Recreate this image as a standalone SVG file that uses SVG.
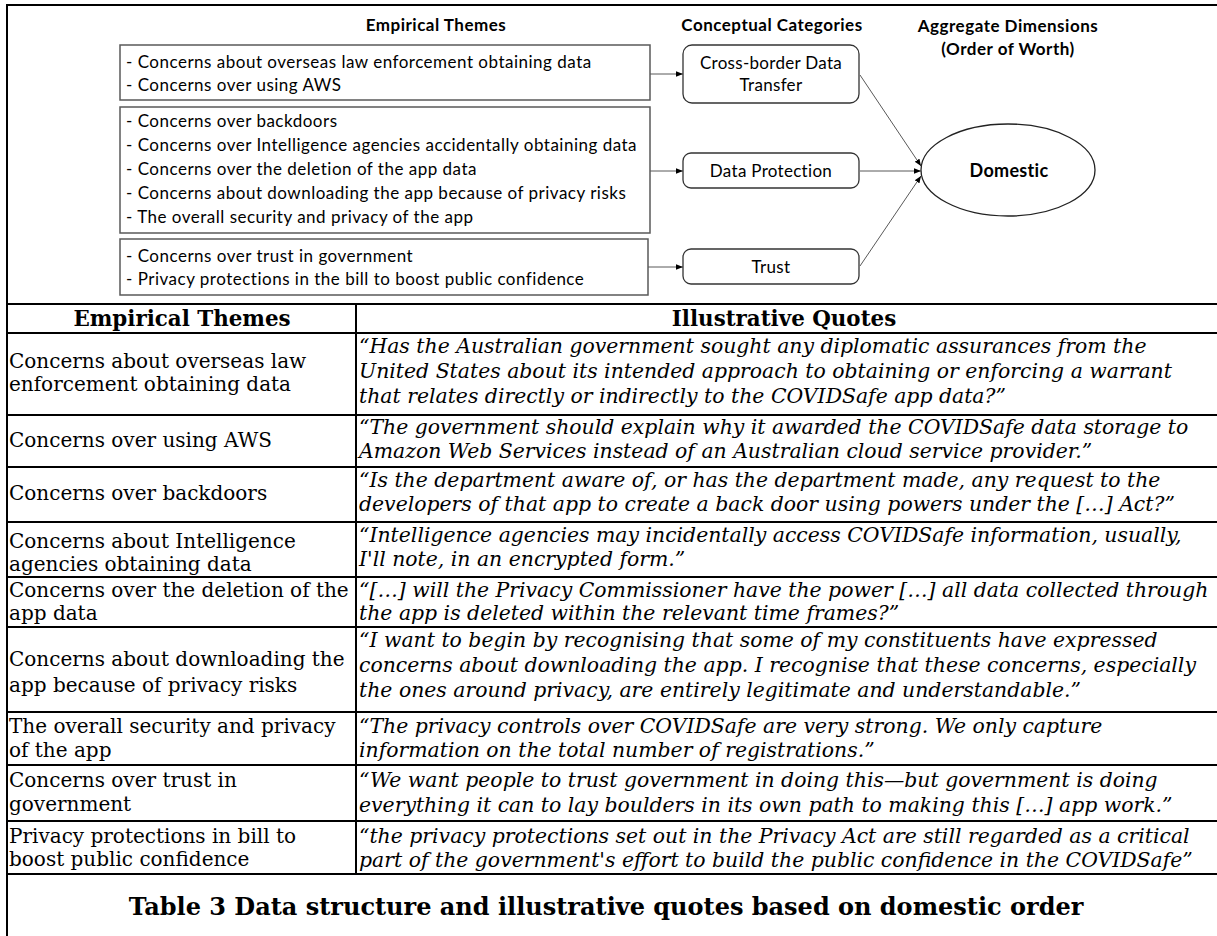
<svg xmlns="http://www.w3.org/2000/svg" width="1217" height="936" viewBox="0 0 1217 936">
<defs>
<style>
.hd{font-family:Lato,"Liberation Sans",sans-serif;font-weight:bold;font-size:17px;letter-spacing:0.5px;fill:#000;text-anchor:middle}
.bt{font-family:Lato,"Liberation Sans",sans-serif;font-size:17px;letter-spacing:0.5px;fill:#000}
.ct{font-family:Lato,"Liberation Sans",sans-serif;font-size:17px;letter-spacing:0.3px;fill:#000;text-anchor:middle}
.box{fill:#fff;stroke:#595959;stroke-width:1.5}
.cat{fill:#fff;stroke:#333;stroke-width:1.3}
.con{stroke:#595959;stroke-width:1;fill:none}
.tl{stroke:#000;stroke-width:2;fill:none}
.th{font-family:"DejaVu Serif","Liberation Serif",serif;font-weight:bold;font-size:21.4px;fill:#000;text-anchor:middle}
.lc{font-family:"DejaVu Serif","Liberation Serif",serif;font-size:20px;fill:#000}
.qc{font-family:"DejaVu Serif","Liberation Serif",serif;font-style:italic;font-size:20.4px;fill:#000}
.cap{font-family:"DejaVu Serif","Liberation Serif",serif;font-weight:bold;font-size:24px;fill:#000;text-anchor:middle}
</style>
<marker id="ah" viewBox="0 0 10 10" refX="10" refY="5" markerWidth="7" markerHeight="7" orient="auto" markerUnits="userSpaceOnUse">
<path d="M0,1 L10,5 L0,9 z" fill="#000"/>
</marker>
</defs>
<rect width="1217" height="936" fill="#fff"/>

<g id="frame">
<line class="tl" x1="6" y1="5" x2="1217" y2="5"/>
<line class="tl" x1="7" y1="4" x2="7" y2="936"/>
</g>

<g id="headers">
<text class="hd" x="436" y="31">Empirical Themes</text>
<text class="hd" x="772" y="31">Conceptual Categories</text>
<text class="hd" x="1008" y="32">Aggregate Dimensions</text>
<text class="hd" x="1008" y="55">(Order of Worth)</text>
</g>

<g id="theme-box-1">
<rect class="box" x="120" y="45" width="530" height="55"/>
<text class="bt" x="126" y="68">- Concerns about overseas law enforcement obtaining data</text>
<text class="bt" x="126" y="91">- Concerns over using AWS</text>
</g>
<g id="theme-box-2">
<rect class="box" x="120" y="107" width="530" height="126"/>
<text class="bt" x="126" y="127">- Concerns over backdoors</text>
<text class="bt" x="126" y="151">- Concerns over Intelligence agencies accidentally obtaining data</text>
<text class="bt" x="126" y="175">- Concerns over the deletion of the app data</text>
<text class="bt" x="126" y="199">- Concerns about downloading the app because of privacy risks</text>
<text class="bt" x="126" y="223">- The overall security and privacy of the app</text>
</g>
<g id="theme-box-3">
<rect class="box" x="120" y="239" width="528" height="56"/>
<text class="bt" x="126" y="262">- Concerns over trust in government</text>
<text class="bt" x="126" y="285">- Privacy protections in the bill to boost public confidence</text>
</g>

<g id="cat-cross-border">
<rect class="cat" x="683" y="45" width="176" height="58" rx="9"/>
<text class="ct" x="771" y="69">Cross-border Data</text>
<text class="ct" x="771" y="91">Transfer</text>
</g>
<g id="cat-data-protection">
<rect class="cat" x="683" y="153" width="176" height="35" rx="8"/>
<text class="ct" x="771" y="177">Data Protection</text>
</g>
<g id="cat-trust">
<rect class="cat" x="683" y="249" width="176" height="35" rx="8"/>
<text class="ct" x="771" y="273">Trust</text>
</g>

<g id="dim-domestic">
<ellipse cx="1008" cy="170" rx="87" ry="46" fill="#fff" stroke="#222" stroke-width="1.3"/>
<text class="hd" x="1009" y="177" style="font-size:18px;letter-spacing:0.3px">Domestic</text>
</g>

<g id="connectors">
<line class="con" x1="650" y1="74" x2="683" y2="74" marker-end="url(#ah)"/>
<line class="con" x1="650" y1="171" x2="683" y2="171" marker-end="url(#ah)"/>
<line class="con" x1="648" y1="267" x2="683" y2="267" marker-end="url(#ah)"/>
<line class="con" x1="860" y1="75" x2="921" y2="166" marker-end="url(#ah)"/>
<line class="con" x1="860" y1="171" x2="921" y2="171" marker-end="url(#ah)"/>
<line class="con" x1="860" y1="266" x2="921" y2="176" marker-end="url(#ah)"/>
</g>

<g id="table-grid">
<line class="tl" x1="7" y1="304" x2="1217" y2="304"/>
<line class="tl" x1="7" y1="333" x2="1217" y2="333"/>
<line class="tl" x1="7" y1="415" x2="1217" y2="415"/>
<line class="tl" x1="7" y1="467" x2="1217" y2="467"/>
<line class="tl" x1="7" y1="522" x2="1217" y2="522"/>
<line class="tl" x1="7" y1="577" x2="1217" y2="577"/>
<line class="tl" x1="7" y1="627" x2="1217" y2="627"/>
<line class="tl" x1="7" y1="712" x2="1217" y2="712"/>
<line class="tl" x1="7" y1="765" x2="1217" y2="765"/>
<line class="tl" x1="7" y1="821" x2="1217" y2="821"/>
<line class="tl" x1="7" y1="874" x2="1217" y2="874"/>
<line class="tl" x1="356" y1="304" x2="356" y2="874"/>
</g>

<g id="table-header">
<text class="th" x="182" y="326">Empirical Themes</text>
<text class="th" x="784" y="326">Illustrative Quotes</text>
</g>

<g id="row-1">
<text class="lc" x="9" y="368">Concerns about overseas law</text>
<text class="lc" x="9" y="391">enforcement obtaining data</text>
<text class="qc" x="359" y="353">“Has the Australian government sought any diplomatic assurances from the</text>
<text class="qc" x="359" y="378">United States about its intended approach to obtaining or enforcing a warrant</text>
<text class="qc" x="359" y="403">that relates directly or indirectly to the COVIDSafe app data?”</text>
</g>
<g id="row-2">
<text class="lc" x="9" y="447">Concerns over using AWS</text>
<text class="qc" x="359" y="434">“The government should explain why it awarded the COVIDSafe data storage to</text>
<text class="qc" x="359" y="458">Amazon Web Services instead of an Australian cloud service provider.”</text>
</g>
<g id="row-3">
<text class="lc" x="9" y="500">Concerns over backdoors</text>
<text class="qc" x="359" y="487">“Is the department aware of, or has the department made, any request to the</text>
<text class="qc" x="359" y="511">developers of that app to create a back door using powers under the […] Act?”</text>
</g>
<g id="row-4">
<text class="lc" x="9" y="548">Concerns about Intelligence</text>
<text class="lc" x="9" y="571">agencies obtaining data</text>
<text class="qc" x="359" y="542">“Intelligence agencies may incidentally access COVIDSafe information, usually,</text>
<text class="qc" x="359" y="566">I'll note, in an encrypted form.”</text>
</g>
<g id="row-5">
<text class="lc" x="9" y="597">Concerns over the deletion of the</text>
<text class="lc" x="9" y="620">app data</text>
<text class="qc" x="359" y="597">“[…] will the Privacy Commissioner have the power […] all data collected through</text>
<text class="qc" x="359" y="620">the app is deleted within the relevant time frames?”</text>
</g>
<g id="row-6">
<text class="lc" x="9" y="666">Concerns about downloading the</text>
<text class="lc" x="9" y="692">app because of privacy risks</text>
<text class="qc" x="359" y="647">“I want to begin by recognising that some of my constituents have expressed</text>
<text class="qc" x="359" y="672">concerns about downloading the app. I recognise that these concerns, especially</text>
<text class="qc" x="359" y="697">the ones around privacy, are entirely legitimate and understandable.”</text>
</g>
<g id="row-7">
<text class="lc" x="9" y="733">The overall security and privacy</text>
<text class="lc" x="9" y="757">of the app</text>
<text class="qc" x="359" y="733">“The privacy controls over COVIDSafe are very strong. We only capture</text>
<text class="qc" x="359" y="757">information on the total number of registrations.”</text>
</g>
<g id="row-8">
<text class="lc" x="9" y="787">Concerns over trust in</text>
<text class="lc" x="9" y="811">government</text>
<text class="qc" x="359" y="787">“We want people to trust government in doing this—but government is doing</text>
<text class="qc" x="359" y="812">everything it can to lay boulders in its own path to making this […] app work.”</text>
</g>
<g id="row-9">
<text class="lc" x="9" y="843">Privacy protections in bill to</text>
<text class="lc" x="9" y="866">boost public confidence</text>
<text class="qc" x="359" y="843">“the privacy protections set out in the Privacy Act are still regarded as a critical</text>
<text class="qc" x="359" y="867">part of the government's effort to build the public confidence in the COVIDSafe”</text>
</g>

<g id="caption">
<text class="cap" x="606" y="915">Table 3 Data structure and illustrative quotes based on domestic order</text>
</g>
</svg>
